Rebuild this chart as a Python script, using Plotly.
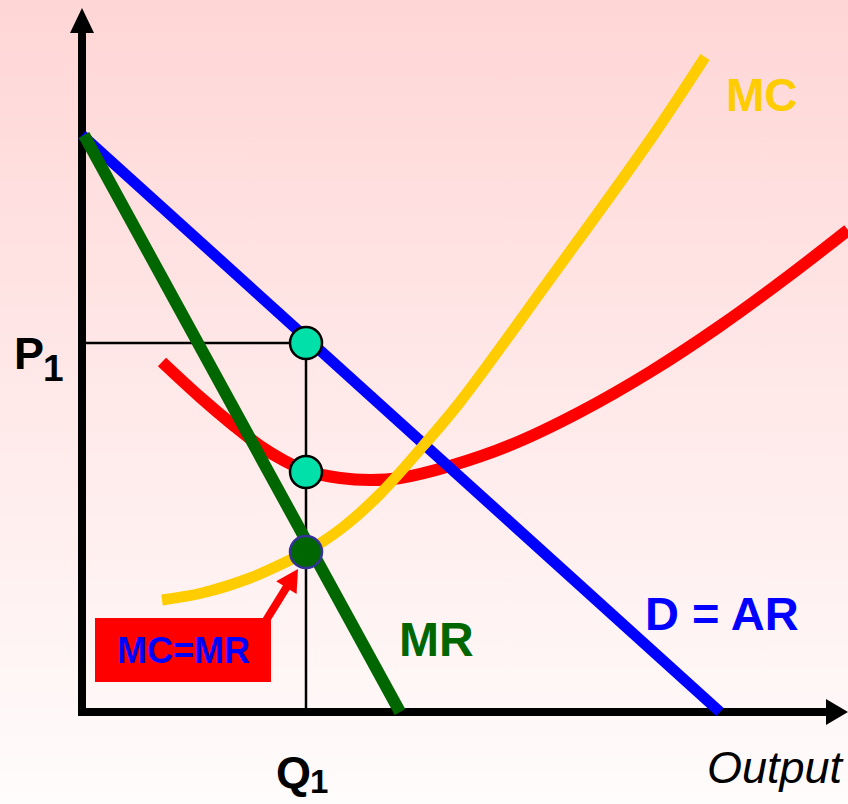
import base64
import plotly.graph_objects as go

# Data in chart units (origin = where the axes meet; 1 unit ~ 1 px of the picture)
demand_q = [0, 638]
demand_p = [577, 0]

mr_q = [2, 318]
mr_p = [577, 0]

atc_q = [80, 118, 151, 178, 201, 225, 258, 288, 318, 368, 431, 498, 568, 638, 708, 766]
atc_c = [350, 315, 287, 266, 252, 241, 234, 232, 234, 246, 268, 300, 340, 386, 437, 482]

mc_q = [80, 120, 168, 208, 224, 260, 298, 341, 378, 468, 568, 623]
mc_c = [112, 119, 134, 152, 160, 184, 218, 266, 310, 433, 572, 655]

q1 = 224
p1 = 369
atc_at_q1 = 240
mc_at_q1 = 160

X_MIN, X_MAX = -82, 766
Y_MIN, Y_MAX = -92, 712

FONT = "Arial, Liberation Sans, sans-serif"


def px(x, y):
    """picture pixel -> chart units"""
    return x - 82, 712 - y


fig = go.Figure()

# reference lines
fig.add_trace(go.Scatter(x=[0, q1, q1], y=[p1, p1, 0], mode="lines",
                         line=dict(color="black", width=2.5), hoverinfo="skip"))
# ATC (red)
fig.add_trace(go.Scatter(x=atc_q, y=atc_c, mode="lines",
                         line=dict(color="#FF0000", width=12, shape="spline", smoothing=1.0),
                         hoverinfo="skip"))
# Demand = AR (blue)
fig.add_trace(go.Scatter(x=demand_q, y=demand_p, mode="lines",
                         line=dict(color="#0000FF", width=11), hoverinfo="skip"))
# MC (yellow)
fig.add_trace(go.Scatter(x=mc_q, y=mc_c, mode="lines",
                         line=dict(color="#FFCC00", width=11, shape="spline", smoothing=1.0),
                         hoverinfo="skip"))
# MR (green)
fig.add_trace(go.Scatter(x=mr_q, y=mr_p, mode="lines",
                         line=dict(color="#006600", width=12), hoverinfo="skip"))
# points
fig.add_trace(go.Scatter(x=[q1, q1], y=[p1, atc_at_q1], mode="markers",
                         marker=dict(size=32, color="#00E0A8", line=dict(color="black", width=2.5)),
                         hoverinfo="skip"))
fig.add_trace(go.Scatter(x=[q1], y=[mc_at_q1], mode="markers",
                         marker=dict(size=32, color="#006600", line=dict(color="#333399", width=2.5)),
                         hoverinfo="skip"))

shapes = []
# y axis
x0, y0 = px(82, 716)
x1, y1 = px(82, 30)
shapes.append(dict(type="line", xref="x", yref="y", x0=x0, y0=y0, x1=x1, y1=y1,
                   line=dict(color="black", width=8), layer="below"))
tx, ty = px(82, 8)
bl = px(70, 33)
br = px(94, 33)
shapes.append(dict(type="path", xref="x", yref="y",
                   path=f"M {tx},{ty} L {bl[0]},{bl[1]} L {br[0]},{br[1]} Z",
                   fillcolor="black", line=dict(color="black", width=0), layer="below"))
# x axis
x0, y0 = px(78, 712)
x1, y1 = px(830, 712)
shapes.append(dict(type="line", xref="x", yref="y", x0=x0, y0=y0, x1=x1, y1=y1,
                   line=dict(color="black", width=8), layer="below"))
tx, ty = px(848, 712)
bt = px(826, 699)
bb = px(826, 725)
shapes.append(dict(type="path", xref="x", yref="y",
                   path=f"M {tx},{ty} L {bt[0]},{bt[1]} L {bb[0]},{bb[1]} Z",
                   fillcolor="black", line=dict(color="black", width=0), layer="below"))

# MC=MR box
b0 = px(95, 618)
b1 = px(271, 682)
shapes.append(dict(type="rect", xref="x", yref="y", x0=b0[0], y0=b0[1], x1=b1[0], y1=b1[1],
                   fillcolor="#FF0000", line=dict(width=0), layer="above"))
# red arrow from the box to the MC=MR point
tail = (265, 622)
tip = (298, 569)
dx, dy = tip[0] - tail[0], tip[1] - tail[1]
L = (dx * dx + dy * dy) ** 0.5
ux, uy = dx / L, dy / L
head_len, head_half = 22, 12
base = (tip[0] - ux * head_len, tip[1] - uy * head_len)
c1 = (base[0] - uy * head_half, base[1] + ux * head_half)
c2 = (base[0] + uy * head_half, base[1] - ux * head_half)
s0 = px(*tail)
s1 = px(base[0] + ux * 2, base[1] + uy * 2)
shapes.append(dict(type="line", xref="x", yref="y", x0=s0[0], y0=s0[1], x1=s1[0], y1=s1[1],
                   line=dict(color="#FF0000", width=8), layer="above"))
pt, pc1, pc2 = px(*tip), px(*c1), px(*c2)
shapes.append(dict(type="path", xref="x", yref="y",
                   path=f"M {pt[0]},{pt[1]} L {pc1[0]},{pc1[1]} L {pc2[0]},{pc2[1]} Z",
                   fillcolor="#FF0000", line=dict(color="#FF0000", width=0), layer="above"))

annotations = []


def label(text, x, y, size, color, bold=True, italic=False):
    t = text
    if bold:
        t = f"<b>{t}</b>"
    if italic:
        t = f"<i>{t}</i>"
    ax, ay = px(x, y)
    annotations.append(dict(text=t, x=ax, y=ay, xref="x", yref="y", showarrow=False,
                            xanchor="center", yanchor="middle",
                            font=dict(family=FONT, size=size, color=color)))


label("MC", 762, 95, 46, "#FFCC00")
label("D = AR", 722, 613, 47, "#0000FF")
label("MR", 436, 639, 48, "#006600")
label("MC=MR", 183, 650, 36, "#0000FF")
label("P", 29, 353, 45, "black")
label("1", 53, 368, 37, "black")
label("Q", 293, 772, 45, "black")
label("1", 319, 781, 33, "black")
label("Output", 776, 767, 45, "black", bold=False, italic=True)

svg = ('<svg xmlns="http://www.w3.org/2000/svg" width="848" height="804">'
       '<defs><linearGradient id="g" x1="0" y1="0" x2="0" y2="1">'
       '<stop offset="0" stop-color="#FFD6D6"/><stop offset="1" stop-color="#FFFCFC"/>'
       '</linearGradient></defs><rect width="848" height="804" fill="url(#g)"/></svg>')
bg = "data:image/svg+xml;base64," + base64.b64encode(svg.encode()).decode()

fig.update_layout(
    width=848, height=804,
    margin=dict(l=0, r=0, t=0, b=0),
    paper_bgcolor="white",
    plot_bgcolor="rgba(0,0,0,0)",
    showlegend=False,
    shapes=shapes,
    annotations=annotations,
    images=[dict(source=bg, xref="paper", yref="paper", x=0, y=1, sizex=1, sizey=1,
                 sizing="stretch", xanchor="left", yanchor="top", layer="below")],
    xaxis=dict(range=[X_MIN, X_MAX], visible=False, fixedrange=True),
    yaxis=dict(range=[Y_MIN, Y_MAX], visible=False, fixedrange=True),
)

fig.write_html(
    "out.html",
    config={"displayModeBar": False},
    post_script="document.body.style.margin='0px';document.body.style.padding='0px';"
                "document.body.style.overflow='hidden';",
)
